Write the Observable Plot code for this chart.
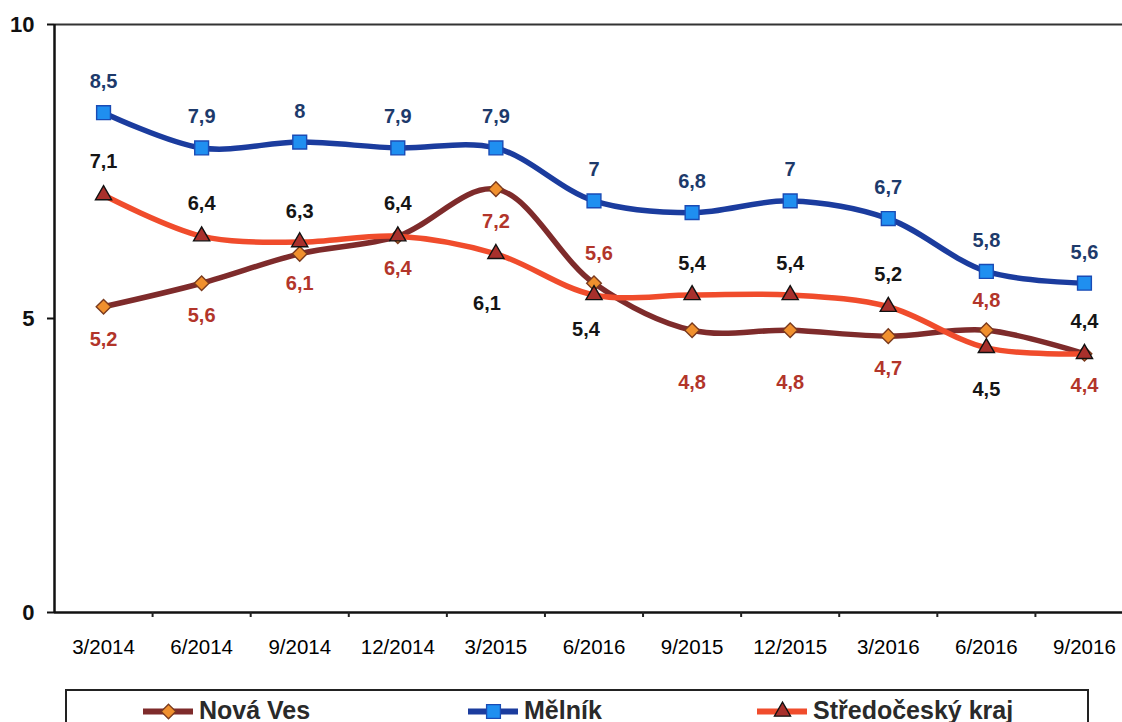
<!DOCTYPE html>
<html><head><meta charset="utf-8">
<script src="https://cdn.jsdelivr.net/npm/d3@7"></script>
<script src="https://cdn.jsdelivr.net/npm/@observablehq/plot@0.6"></script>
<style>
body{margin:0;background:#fff;width:1122px;height:722px;overflow:hidden;font-family:"Liberation Sans",Arial,sans-serif;position:relative;}
#chart svg{overflow:visible;display:block;}
#legend{position:absolute;left:65px;top:689px;width:1024px;height:60px;border:2px solid #222;box-sizing:border-box;background:#fff;}
.item{position:absolute;top:7px;display:flex;align-items:center;font-weight:bold;font-size:25px;line-height:25px;color:#2a2a2a;white-space:nowrap;}
.item svg{margin-right:6px;}
</style></head><body>
<div id="chart"></div>
<div id="legend"></div>
<script>
// ---- data ----
const periods = ["3/2014","6/2014","9/2014","12/2014","3/2015","6/2016","9/2015","12/2015","3/2016","6/2016","9/2016"];
const novaVes = [5.2,5.6,6.1,6.4,7.2,5.6,4.8,4.8,4.7,4.8,4.4];
const melnik = [8.5,7.9,8,7.9,7.9,7,6.8,7,6.7,5.8,5.6];
const stredocesky = [7.1,6.4,6.3,6.4,6.1,5.4,5.4,5.4,5.2,4.5,4.4];
const seriesNames = ["Nová Ves","Mělník","Středočeský kraj"];
const yTicks = [0,5,10];

// ---- label placement (pixel offsets from the point) ----
const novaVesLabelDy = [33,32,30,32,32,-30,52,52,32,-30,32];
const novaVesLabelDx = [0,0,0,0,0,5,0,0,0,0,0];
const melnikLabelDy = [-31,-31,-31,-31,-31,-31,-31,-31,-31,-31,-31];
const melnikLabelDx = [0,0,0,0,0,0,0,0,0,0,0];
const stredoLabelDy = [-33,-33,-30,-33,50,35,-31,-31,-32,42,-32];
const stredoLabelDx = [0,0,0,0,-9,-8,0,0,0,0,0];

// ---- styles ----
const styles = [
  {name: seriesNames[0], values: novaVes, dy: novaVesLabelDy, dx: novaVesLabelDx,
   line: "#7e2b2b", symbol: "diamond2", r: 6.6, fill: "#f0902e", mstroke: "#7a3a1e", label: "#b2352a"},
  {name: seriesNames[1], values: melnik, dy: melnikLabelDy, dx: melnikLabelDx,
   line: "#1b3c9e", symbol: "square", r: 7.8, fill: "#1f8ff0", mstroke: "#1a4bb5", label: "#1d3a6b"},
  {name: seriesNames[2], values: stredocesky, dy: stredoLabelDy, dx: stredoLabelDx,
   line: "#f04c2c", symbol: "triangle", r: 6, fill: "#a8302c", mstroke: "#111", label: "#151515"}
];

const fmt = v => String(v).replace(".", ",");
const marks = [];
const font = "Liberation Sans, Arial, sans-serif";

marks.push(Plot.ruleY([10], {stroke: "#333", strokeWidth: 2}));
marks.push(Plot.ruleX([-0.5], {stroke: "#111", strokeWidth: 2.5}));
marks.push(Plot.ruleY([0], {stroke: "#111", strokeWidth: 2.5}));
marks.push(Plot.axisY({ticks: yTicks, tickSize: 7, tickPadding: 13, tickFormat: d => String(d), label: null,
  fontSize: 22, fontWeight: "bold", stroke: "#111", strokeWidth: 2, fill: "#111"}));
marks.push(Plot.axisX({ticks: d3.range(periods.length), tickSize: 0, tickPadding: 27, label: null,
  tickFormat: i => periods[i], fontSize: 20.5, fill: "#000"}));
marks.push(Plot.axisX({ticks: d3.range(0.5, periods.length - 1, 1), tickSize: 5, tickFormat: () => "", label: null,
  stroke: "#222", strokeWidth: 2}));

for (const s of styles) {
  const rows = s.values.map((v, i) => ({i, v, dy: s.dy[i], dx: s.dx[i]}));
  marks.push(Plot.line(rows, {x: "i", y: "v", stroke: s.line, strokeWidth: 5.5, curve: "catmull-rom"}));
  marks.push(Plot.dot(rows, {x: "i", y: "v", symbol: s.symbol, r: s.r, fill: s.fill, stroke: s.mstroke, strokeWidth: 1.4}));
  const groups = d3.groups(rows, d => d.dy + "|" + d.dx);
  for (const [, g] of groups) {
    marks.push(Plot.text(g, {x: "i", y: "v", text: d => fmt(d.v), dy: g[0].dy, dx: g[0].dx,
      fill: s.label, fontSize: 20, fontWeight: "bold", fontFamily: font}));
  }
}

const chart = Plot.plot({
  width: 1122, height: 680,
  marginTop: 24, marginBottom: 68, marginLeft: 54, marginRight: 0,
  x: {type: "linear", domain: [-0.5, periods.length - 0.5], range: [54, 1133], label: null},
  y: {domain: [0, 10], range: [612, 24], label: null},
  style: {fontFamily: font, background: "#fff", overflow: "visible"},
  marks
});
document.getElementById("chart").appendChild(chart);

// ---- legend ----
const legend = document.getElementById("legend");
const legendLeft = [76, 401, 690];
styles.forEach((s, k) => {
  const item = document.createElement("div");
  item.className = "item";
  item.style.left = legendLeft[k] + "px";
  const sym = Plot.plot({
    width: 50, height: 24, margin: 0,
    x: {domain: [0, 1], range: [0, 50], axis: null},
    y: {domain: [0, 1], range: [24, 0], axis: null},
    marks: [
      Plot.ruleY([0.5], {stroke: s.line, strokeWidth: 6}),
      Plot.dot([0.5], {x: d => d, y: 0.5, symbol: s.symbol, r: s.r, fill: s.fill, stroke: s.mstroke, strokeWidth: 1.3})
    ]
  });
  item.appendChild(sym);
  const t = document.createElement("span");
  t.textContent = s.name;
  item.appendChild(t);
  legend.appendChild(item);
});
</script>
</body></html>
